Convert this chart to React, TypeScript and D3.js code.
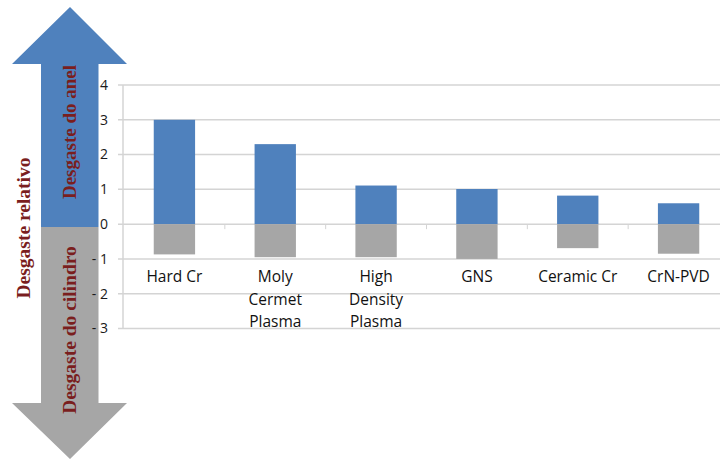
import React from "react";
import * as d3 from "d3";

const categories: string[][] = [
  ["Hard Cr"],
  ["Moly", "Cermet", "Plasma"],
  ["High", "Density", "Plasma"],
  ["GNS"],
  ["Ceramic Cr"],
  ["CrN-PVD"],
];
const ringWear = [3.0, 2.3, 1.11, 1.01, 0.82, 0.6];
const cylinderWear = [-0.87, -0.95, -0.95, -1.0, -0.69, -0.85];
const yTicks = [4, 3, 2, 1, 0, -1, -2, -3];
const arrowUpLabel = "Desgaste do anel";
const arrowDownLabel = "Desgaste do cilindro";
const sideLabel = "Desgaste relativo";

const W = 720;
const H = 462;
const BLUE = "#4f81bd";
const GREY = "#a6a6a6";
const RED = "#7a1e1e";
const GRID = "#d4d4d4";

export default function App() {
  const x = d3
    .scaleBand<number>()
    .domain(categories.map((_, i) => i))
    .range([124, 729])
    .paddingInner(0.59)
    .paddingOuter(0.295);
  const y = d3.scaleLinear().domain([-3, 4]).range([328.5, 85]);
  const y0 = y(0);

  const shaftL = 41, shaftR = 98.5, headL = 12, headR = 127, cx = 70;
  const upTip = 7, upBase = 64, downBase = 403, downTip = 459, split = 227;

  const upArrow = `M${cx},${upTip} L${headR},${upBase} L${shaftR},${upBase} L${shaftR},${split} L${shaftL},${split} L${shaftL},${upBase} L${headL},${upBase} Z`;
  const downArrow = `M${shaftL},${split} L${shaftR},${split} L${shaftR},${downBase} L${headR},${downBase} L${cx},${downTip} L${headL},${downBase} L${shaftL},${downBase} Z`;

  const font = "'Open Sans', 'Noto Sans', sans-serif";
  const serif = "'Liberation Serif', 'DejaVu Serif', serif";

  return (
    <svg
      width={W}
      height={H}
      style={{ position: "absolute", left: 0, top: 0, background: "#fff" }}
    >
      <path d={upArrow} fill={BLUE} />
      <path d={downArrow} fill={GREY} />

      {yTicks.map((t) => (
        <line
          key={t}
          x1={118}
          x2={729}
          y1={y(t)}
          y2={y(t)}
          stroke={GRID}
          strokeWidth={1.5}
        />
      ))}
      <line x1={123} x2={123} y1={y(4)} y2={y(-3)} stroke={GRID} strokeWidth={1.5} />

      {categories.slice(1).map((_, i) => {
        const bx = 124 + (i + 1) * (605 / 6);
        return (
          <line key={i} x1={bx} x2={bx} y1={y0} y2={y0 + 5} stroke={GRID} strokeWidth={1} />
        );
      })}

      {ringWear.map((v, i) => (
        <rect
          key={"r" + i}
          x={x(i)}
          width={x.bandwidth()}
          y={y(v)}
          height={y0 - y(v)}
          fill={BLUE}
        />
      ))}
      {cylinderWear.map((v, i) => (
        <rect
          key={"c" + i}
          x={x(i)}
          width={x.bandwidth()}
          y={y0}
          height={y(v) - y0}
          fill={GREY}
        />
      ))}

      {yTicks.map((t) => (
        <text
          key={"t" + t}
          x={108}
          y={y(t)}
          dy="0.35em"
          textAnchor="end"
          fontFamily={font}
          fontSize={14}
          fill="#1a1a1a"
        >
          {t < 0 ? `- ${Math.abs(t)}` : t}
        </text>
      ))}

      {categories.map((lines, i) => (
        <text
          key={"l" + i}
          textAnchor="middle"
          fontFamily={font}
          fontSize={15.5}
          fill="#111"
        >
          {lines.map((ln, j) => (
            <tspan key={j} x={(x(i) as number) + x.bandwidth() / 2} y={282 + j * 22.5}>
              {ln}
            </tspan>
          ))}
        </text>
      ))}

      <text
        transform={`translate(${cx + 6},132) rotate(-90)`}
        textAnchor="middle"
        fontFamily={serif}
        fontWeight="bold"
        fontSize={19}
        fill={RED}
      >
        {arrowUpLabel}
      </text>
      <text
        transform={`translate(${cx + 6},330) rotate(-90)`}
        textAnchor="middle"
        fontFamily={serif}
        fontWeight="bold"
        fontSize={19.5}
        fill={RED}
      >
        {arrowDownLabel}
      </text>
      <text
        transform={`translate(30,228) rotate(-90)`}
        textAnchor="middle"
        fontFamily={serif}
        fontWeight="bold"
        fontSize={19.5}
        fill={RED}
      >
        {sideLabel}
      </text>
    </svg>
  );
}
